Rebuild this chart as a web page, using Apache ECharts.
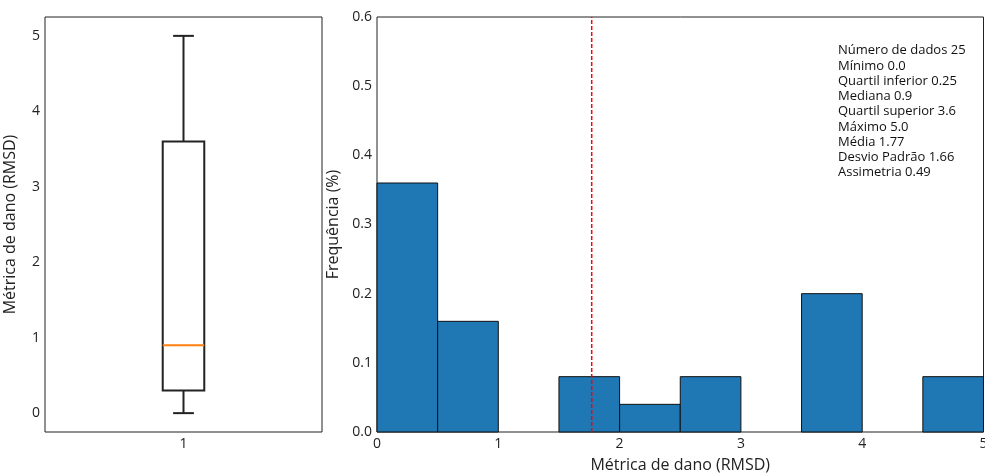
<!DOCTYPE html>
<html>
<head>
<meta charset="utf-8">
<script src="https://cdn.jsdelivr.net/npm/echarts@6/dist/echarts.min.js"></script>
<style>
html,body{margin:0;padding:0;background:#fff;}
#c{width:985px;height:474px;}
</style>
</head>
<body>
<div id="c"></div>
<script>
// Boxplot summary (drawn): min, Q1, median, Q3, max
const boxCategories = ['1'];
const boxValues = [[0, 0.3, 0.9, 3.6, 5.0]];
const boxTicks = [0, 1, 2, 3, 4, 5];

// Histogram bins
const binStarts = [0, 0.5, 1.0, 1.5, 2.0, 2.5, 3.0, 3.5, 4.0, 4.5];
const binEnds   = [0.5, 1.0, 1.5, 2.0, 2.5, 3.0, 3.5, 4.0, 4.5, 5.0];
const binFreq   = [0.36, 0.16, 0, 0.08, 0.04, 0.08, 0, 0.20, 0, 0.08];
const meanValue = 1.77;
const freqMax = 0.6;

const statsLines = [
  'Número de dados 25',
  'Mínimo 0.0',
  'Quartil inferior 0.25',
  'Mediana 0.9',
  'Quartil superior 3.6',
  'Máximo 5.0',
  'Média 1.77',
  'Desvio Padrão 1.66',
  'Assimetria 0.49'
];

const FONT = 'Open Sans';
const chart = echarts.init(document.getElementById('c'), null, {renderer: 'canvas'});

const histData = binStarts.map((s, i) => [s, binEnds[i], binFreq[i]]).filter(d => d[2] > 0);

const option = {
  animation: false,
  textStyle: {fontFamily: FONT},
  grid: [
    {left: 45, top: 17, width: 277, height: 415, show: true, borderColor: '#222', borderWidth: 1, backgroundColor: 'transparent', containLabel: false, outerBoundsMode: 'none'},
    {left: 377, top: 17, width: 606.5, height: 415, show: true, borderColor: '#222', borderWidth: 1, backgroundColor: 'transparent', containLabel: false, outerBoundsMode: 'none'}
  ],
  xAxis: [
    {
      gridIndex: 0, type: 'category', data: boxCategories, boundaryGap: true,
      axisLine: {show: false}, axisTick: {show: false}, splitLine: {show: false},
      axisLabel: {color: '#222', fontSize: 14, fontFamily: FONT, margin: 5}
    },
    {
      gridIndex: 1, type: 'value', min: 0, max: 5, interval: 1,
      name: 'Métrica de dano (RMSD)', nameLocation: 'middle', nameGap: 25,
      nameTextStyle: {color: '#222', fontSize: 16, fontFamily: FONT},
      axisLine: {show: false}, axisTick: {show: false}, splitLine: {show: false},
      axisLabel: {color: '#222', fontSize: 14, fontFamily: FONT, margin: 5, showMaxLabel: true}
    }
  ],
  yAxis: [
    {
      gridIndex: 0, type: 'value', min: -0.25, max: 5.25,
      name: 'Métrica de dano (RMSD)', nameLocation: 'middle', nameGap: 27,
      nameTextStyle: {color: '#222', fontSize: 16, fontFamily: FONT},
      axisLine: {show: false}, axisTick: {show: false}, splitLine: {show: false},
      axisLabel: {color: '#222', fontSize: 14, fontFamily: FONT, margin: 5, customValues: boxTicks}
    },
    {
      gridIndex: 1, type: 'value', min: 0, max: freqMax, interval: 0.1,
      name: 'Frequência (%)', nameLocation: 'middle', nameGap: 32,
      nameTextStyle: {color: '#222', fontSize: 16, fontFamily: FONT},
      axisLine: {show: false}, axisTick: {show: false}, splitLine: {show: false},
      axisLabel: {color: '#222', fontSize: 14, fontFamily: FONT, margin: 5, formatter: v => v.toFixed(1)}
    }
  ],
  series: [
    {
      type: 'custom', xAxisIndex: 0, yAxisIndex: 0,
      data: boxValues.map((v, i) => [i].concat(v)),
      encode: {x: 0, y: [1, 2, 3, 4, 5]},
      renderItem: function (params, api) {
        const xi = api.value(0);
        const pMin = api.coord([xi, api.value(1)]);
        const pQ1 = api.coord([xi, api.value(2)]);
        const pMed = api.coord([xi, api.value(3)]);
        const pQ3 = api.coord([xi, api.value(4)]);
        const pMax = api.coord([xi, api.value(5)]);
        const band = api.size([1, 0])[0];
        const bw = band * 0.15;
        const cw = bw / 2;
        const cx = pMin[0];
        const st = {stroke: '#222', lineWidth: 2, fill: null};
        return {
          type: 'group',
          children: [
            {type: 'line', shape: {x1: cx, y1: pMin[1], x2: cx, y2: pQ1[1]}, style: st},
            {type: 'line', shape: {x1: cx, y1: pQ3[1], x2: cx, y2: pMax[1]}, style: st},
            {type: 'line', shape: {x1: cx - cw / 2, y1: pMin[1], x2: cx + cw / 2, y2: pMin[1]}, style: st},
            {type: 'line', shape: {x1: cx - cw / 2, y1: pMax[1], x2: cx + cw / 2, y2: pMax[1]}, style: st},
            {type: 'rect', shape: {x: cx - bw / 2, y: pQ3[1], width: bw, height: pQ1[1] - pQ3[1]}, style: {stroke: '#222', lineWidth: 2, fill: '#fff'}},
            {type: 'line', shape: {x1: cx - bw / 2, y1: pMed[1], x2: cx + bw / 2, y2: pMed[1]}, style: {stroke: '#ff7f0e', lineWidth: 2}}
          ]
        };
      }
    },
    {
      type: 'custom', xAxisIndex: 1, yAxisIndex: 1,
      data: histData,
      encode: {x: [0, 1], y: 2},
      renderItem: function (params, api) {
        const p0 = api.coord([api.value(0), api.value(2)]);
        const p1 = api.coord([api.value(1), 0]);
        return {
          type: 'rect',
          shape: {x: p0[0], y: p0[1], width: p1[0] - p0[0], height: p1[1] - p0[1]},
          style: {fill: '#1f77b4', stroke: '#111', lineWidth: 1}
        };
      },
      z: 2
    },
    {
      type: 'line', xAxisIndex: 1, yAxisIndex: 1,
      data: [[meanValue, 0], [meanValue, freqMax]],
      symbol: 'none', silent: true,
      color: '#ff0000',
      lineStyle: {color: '#ff0000', type: [4, 2], width: 1.5},
      z: 5
    }
  ],
  graphic: [
    {
      type: 'text', left: 838, top: 43,
      style: {
        text: statsLines.join('\n'), fontFamily: FONT, fontSize: 13,
        lineHeight: 15.25, fill: '#111'
      },
      z: 10
    }
  ]
};
chart.setOption(option);
</script>
</body>
</html>
